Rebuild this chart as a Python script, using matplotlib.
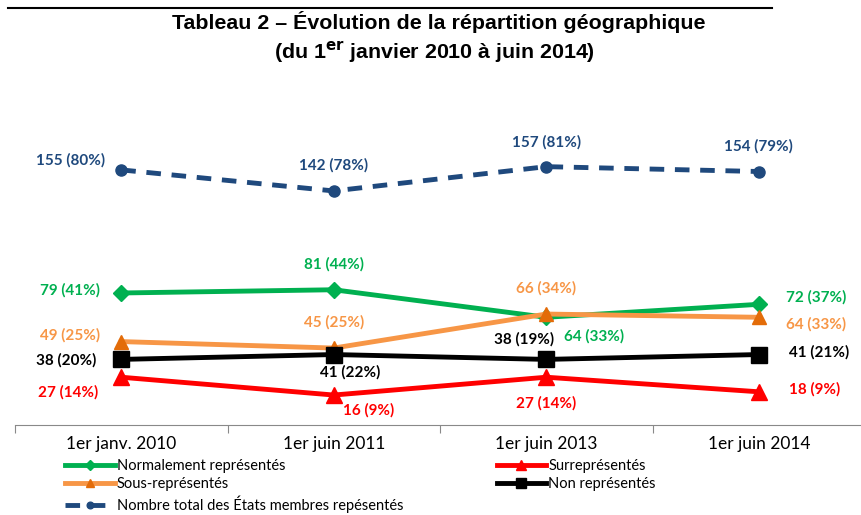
import numpy as np
import matplotlib.pyplot as plt
from matplotlib.lines import Line2D

# chart data
dates = ['1er janv. 2010', '1er juin 2011', '1er juin 2013', '1er juin 2014']
normal = [79, 81, 64, 72]
normal_pct = [41, 44, 33, 37]
sous = [49, 45, 66, 64]
sous_pct = [25, 25, 34, 33]
non_rep = [38, 41, 38, 41]
non_rep_pct = [20, 22, 19, 21]
surrep = [27, 16, 27, 18]
surrep_pct = [14, 9, 14, 9]
total = [155, 142, 157, 154]
total_pct = [80, 78, 81, 79]

plt.rcParams['font.family'] = ['Lato', 'DejaVu Sans']

fig = plt.figure(figsize=(8.61, 5.15), dpi=100)
ax = fig.add_axes([15 / 861, 90 / 515, 850 / 861, 328 / 515])
x = np.arange(len(dates))

green = '#00B050'
orange = '#F79646'
orange_mk = '#E36C09'
red = '#FF0000'
navy = '#1F497D'

ax.plot(x, total, color=navy, lw=3.5, ls=(0, (3, 2.2)), marker='o', ms=8, label='Nombre total des États membres repésentés')
ax.plot(x, normal, color=green, lw=3.5, marker='D', ms=8, label='Normalement représentés')
ax.plot(x, sous, color=orange, lw=3.5, marker='^', ms=10, mfc=orange_mk, mec=orange_mk, label='Sous-représentés')
ax.plot(x, non_rep, color='black', lw=3.5, marker='s', ms=11, label='Non représentés')
ax.plot(x, surrep, color=red, lw=3.5, marker='^', ms=11, label='Surreprésentés')

# label offsets in pixels (dx, dy)
def labels(vals, pcts, color, offsets):
    for i, (v, p) in enumerate(zip(vals, pcts)):
        ax.annotate(f'{v} ({p}%)', (i, v), xytext=offsets[i], textcoords='offset pixels',
                    ha='center', va='center', color=color, fontsize=11, fontweight='bold')

labels(total, total_pct, navy, [(-51, 10), (0, 26), (0, 24), (0, 25)])
labels(normal, normal_pct, green, [(-51, 3), (0, 25), (48, -19), (57, 7)])
labels(sous, sous_pct, orange, [(-51, 6), (0, 26), (0, 26), (57, -7)])
labels(non_rep, non_rep_pct, 'black', [(-55, -1), (16, -18), (-22, 20), (60, 2)])
labels(surrep, surrep_pct, red, [(-53, -15), (35, -15), (0, -26), (56, 2)])

ax.set_xlim(-0.5, 3.5)
ax.set_ylim(-2.5, 200)
for s in ['top', 'right', 'left']:
    ax.spines[s].set_visible(False)
ax.spines['bottom'].set_color('#898989')
ax.set_yticks([])
ax.set_xticks(np.arange(-0.5, 4, 1))
ax.set_xticklabels([])
ax.tick_params(axis='x', which='major', length=6, color='#898989')
ax.set_xticks(x, minor=True)
ax.set_xticklabels(dates, minor=True, fontsize=12.5)
ax.tick_params(axis='x', which='minor', length=0, pad=8)

# title and top rule
fig.add_artist(Line2D([8 / 861, 772 / 861], [1 - 8 / 515, 1 - 8 / 515], color='black', lw=1.5))
fig.text(439 / 861, 1 - 22 / 515, 'Tableau 2 – Évolution de la répartition géographique',
         ha='center', va='center', fontsize=15.4, fontweight='bold', family='Liberation Sans')
fig.text(434 / 861, 1 - 53 / 515, r'(du 1$^{\mathbf{er}}$ janvier 2010 à juin 2014)',
         ha='center', va='center', fontsize=15.4, fontweight='bold', family='Liberation Sans')

h, l = ax.get_legend_handles_labels()
order = [1, 2, 0, 4, 3]
leg = fig.legend([h[i] for i in order], [l[i] for i in order], ncol=2, loc='upper left',
                 bbox_to_anchor=(65 / 861, 1 - 459 / 515), frameon=False, fontsize=10.5,
                 handlelength=3.4, handletextpad=0.15, columnspacing=6.4, labelspacing=0.28,
                 markerscale=0.6, borderaxespad=0, borderpad=0)

fig.savefig('out.png', dpi=100)
